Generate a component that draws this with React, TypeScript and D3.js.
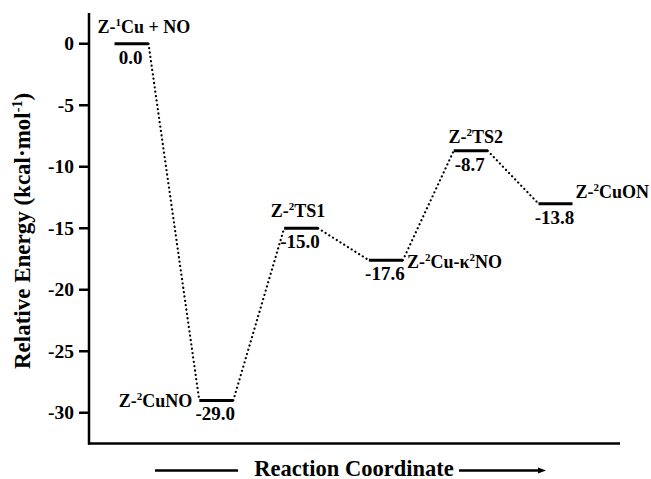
import React from "react";
import * as d3 from "d3";

// states along the reaction coordinate ("^n" marks a superscript)
const states = ["Z-^1Cu + NO", "Z-^2CuNO", "Z-^2TS1", "Z-^2Cu-κ^2NO", "Z-^2TS2", "Z-^2CuON"];
// printed energies (kcal/mol)
const energyLabels = ["0.0", "-29.0", "-15.0", "-17.6", "-8.7", "-13.8"];
// level heights as drawn in the figure (the last bar sits near -13)
const levels = [0, -29.0, -15.0, -17.6, -8.7, -13.0];
const yTicks = [0, -5, -10, -15, -20, -25, -30];

const FONT = "Liberation Serif";

// split "^x" superscripts into tspans
function Rich({ str, sup, rise }: { str: string; sup: number; rise: number }) {
  const parts = str.split(/(\^-?\d)/).filter(p => p.length);
  let up = false;
  return (
    <>
      {parts.map((p, i) => {
        if (p[0] === "^") {
          up = true;
          return (
            <tspan key={i} dy={-rise} style={{ fontSize: sup + "px" }}>
              {p.slice(1)}
            </tspan>
          );
        }
        const back = up;
        up = false;
        return (
          <tspan key={i} dy={back ? rise : undefined}>
            {p}
          </tspan>
        );
      })}
    </>
  );
}

// label placement beside each level
const place = [
  { anchor: "start", dx: -34, dy: -11 },
  { anchor: "end", dx: -24, dy: 7 },
  { anchor: "middle", dx: -3, dy: -11 },
  { anchor: "start", dx: 21, dy: 8 },
  { anchor: "middle", dx: 5, dy: -8 },
  { anchor: "start", dx: 20, dy: -6 },
];

function App() {
  const axisX = 89, axisBottom = 443.5, axisRight = 620;
  const x = d3.scalePoint<string>().domain(states).range([131.5, 555.5]);
  const y = d3.scaleLinear().domain([2.5, -32.5]).range([13, axisBottom]);
  const half = 17;
  const ty = 470.5;
  const txt = { fontFamily: FONT, fontWeight: "bold" as const };

  return (
    <svg
      width="651"
      height="479"
      style={{ position: "absolute", left: 0, top: 0, background: "#fff" }}
    >
      {/* y axis */}
      <line x1={axisX} x2={axisX} y1={y(2.5)} y2={axisBottom + 1.25} stroke="#000" strokeWidth={2.5} />
      {yTicks.map(t => (
        <g key={t} transform={`translate(0,${y(t)})`}>
          <line x1={axisX - 10} x2={axisX} stroke="#000" strokeWidth={2.5} />
          <text x={axisX - 15} dy="0.34em" textAnchor="end" style={{ ...txt, fontSize: "19.5px" }}>
            {String(t)}
          </text>
        </g>
      ))}

      {/* bottom axis line */}
      <line x1={axisX - 1} x2={axisRight} y1={axisBottom} y2={axisBottom} stroke="#000" strokeWidth={2.5} />

      {/* dotted connectors */}
      {states.slice(0, -1).map((s, i) => (
        <line
          key={"c" + i}
          x1={x(s)! + half}
          y1={y(levels[i])}
          x2={x(states[i + 1])! - half}
          y2={y(levels[i + 1])}
          stroke="#000"
          strokeWidth={2.2}
          strokeLinecap="round"
          strokeDasharray="0.1 4.3"
        />
      ))}

      {/* energy levels */}
      {states.map((s, i) => (
        <line
          key={"l" + i}
          x1={x(s)! - half}
          x2={x(s)! + half}
          y1={y(levels[i])}
          y2={y(levels[i])}
          stroke="#000"
          strokeWidth={3}
        />
      ))}

      {/* energy values */}
      {states.map((s, i) => (
        <text
          key={"v" + i}
          x={x(s)! - 1}
          y={y(levels[i]) + 20}
          textAnchor="middle"
          style={{ ...txt, fontSize: "19px" }}
        >
          {energyLabels[i]}
        </text>
      ))}

      {/* state names */}
      {states.map((s, i) => (
        <text
          key={"n" + i}
          x={x(s)! + place[i].dx}
          y={y(levels[i]) + place[i].dy}
          textAnchor={place[i].anchor as any}
          style={{ ...txt, fontSize: "18px" }}
        >
          <Rich str={s} sup={11} rise={7} />
        </text>
      ))}

      {/* y title */}
      <text
        transform="translate(30,231) rotate(-90)"
        textAnchor="middle"
        style={{ ...txt, fontSize: "23px" }}
      >
        <Rich str="Relative Energy (kcal·mol^-1)" sup={14} rise={8} />
      </text>

      {/* x title with arrows */}
      <text x={354} y={475.5} textAnchor="middle" style={{ ...txt, fontSize: "22.5px" }}>
        Reaction Coordinate
      </text>
      <line x1={155} x2={238} y1={ty} y2={ty} stroke="#000" strokeWidth={2.5} />
      <line x1={459} x2={540} y1={ty} y2={ty} stroke="#000" strokeWidth={2.5} />
      <path d={`M538,${ty - 3}L546,${ty}L538,${ty + 3}Z`} fill="#000" />
    </svg>
  );
}

export default App;
